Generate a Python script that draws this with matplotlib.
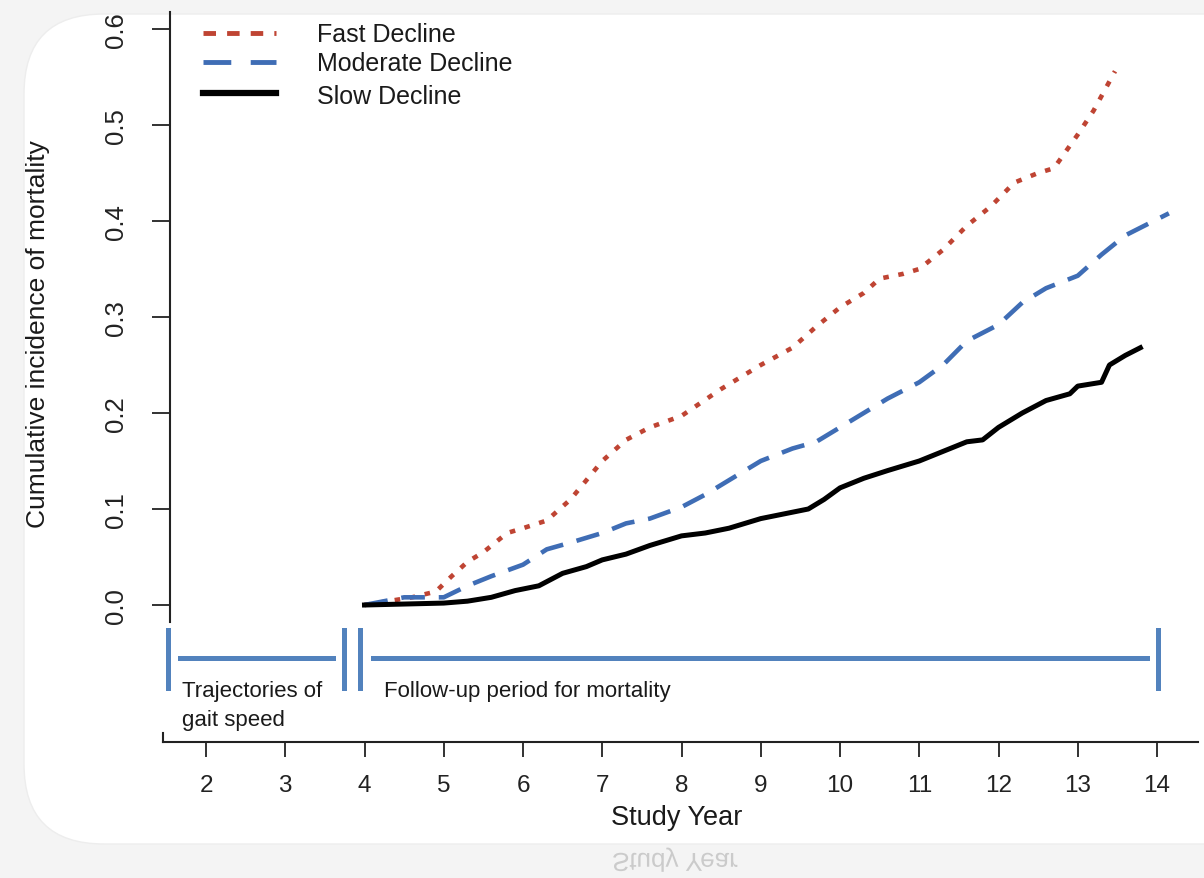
import numpy as np
import matplotlib.pyplot as plt
from matplotlib.patches import FancyBboxPatch, PathPatch
from matplotlib.textpath import TextPath
from matplotlib.font_manager import FontProperties
from matplotlib.transforms import IdentityTransform, Affine2D

plt.rcParams['font.family'] = ['Liberation Sans', 'DejaVu Sans']
plt.rcParams['lines.scale_dashes'] = False

# cumulative incidence curves read per study year
fast_years = [4.0, 4.3, 4.6, 4.9, 5.1, 5.3, 5.5, 5.8, 6.0, 6.3, 6.6, 7.0, 7.3, 7.6,
              8.0, 8.5, 9.0, 9.4, 9.7, 10.0, 10.3, 10.5, 10.8, 11.0, 11.3, 11.6,
              11.9, 12.2, 12.5, 12.7, 13.0, 13.2, 13.47]
fast = [0.0, 0.004, 0.008, 0.014, 0.030, 0.045, 0.055, 0.075, 0.080, 0.088, 0.110,
        0.150, 0.172, 0.185, 0.197, 0.225, 0.250, 0.268, 0.290, 0.310, 0.325, 0.340,
        0.345, 0.350, 0.370, 0.395, 0.415, 0.440, 0.450, 0.455, 0.490, 0.515, 0.556]

moderate_years = [4.0, 4.5, 5.0, 5.3, 5.6, 6.0, 6.3, 6.6, 7.0, 7.3, 7.6, 8.0, 8.3,
                  8.6, 9.0, 9.4, 9.7, 10.0, 10.3, 10.6, 11.0, 11.3, 11.6, 12.0, 12.3,
                  12.6, 13.0, 13.3, 13.6, 14.15]
moderate = [0.0, 0.008, 0.008, 0.020, 0.030, 0.042, 0.058, 0.065, 0.075, 0.085, 0.090,
            0.102, 0.115, 0.130, 0.150, 0.163, 0.170, 0.185, 0.200, 0.215, 0.232, 0.250,
            0.275, 0.292, 0.315, 0.330, 0.343, 0.365, 0.385, 0.408]

slow_years = [4.0, 4.5, 5.0, 5.3, 5.6, 5.9, 6.2, 6.5, 6.8, 7.0, 7.3, 7.6, 8.0, 8.3,
              8.6, 9.0, 9.3, 9.6, 9.8, 10.0, 10.3, 10.6, 11.0, 11.3, 11.6, 11.8, 12.0,
              12.3, 12.6, 12.9, 13.0, 13.3, 13.4, 13.6, 13.79]
slow = [0.0, 0.001, 0.002, 0.004, 0.008, 0.015, 0.020, 0.033, 0.040, 0.047, 0.053,
        0.062, 0.072, 0.075, 0.080, 0.090, 0.095, 0.100, 0.110, 0.122, 0.132, 0.140,
        0.150, 0.160, 0.170, 0.172, 0.185, 0.200, 0.213, 0.220, 0.228, 0.232, 0.250,
        0.260, 0.268]

series_names = ['Fast Decline', 'Moderate Decline', 'Slow Decline']
x_ticks = list(range(2, 15))
y_ticks = [0.0, 0.1, 0.2, 0.3, 0.4, 0.5, 0.6]

# study periods (years)
gait_period = (1.52, 3.74)
followup_period = (3.94, 14.01)

W, H = 1204, 879


def yr(px):
    # pixel column -> study year
    return 2 + (px - 206) / 79.25


def val(py):
    # pixel row -> incidence value
    return (606 - py) / 960


fig = plt.figure(figsize=(W / 100, H / 100), dpi=100)
fig.patch.set_facecolor('#f4f4f4')

card = FancyBboxPatch((24, H - 845), W + 60, 830,
                      boxstyle='round,pad=0,rounding_size=80',
                      transform=IdentityTransform(), facecolor='white',
                      edgecolor='#ededed', lw=1, zorder=0)
fig.add_artist(card)

ax = fig.add_axes([0, 0, 1, 1])
ax.patch.set_alpha(0)
ax.set_xlim(yr(0), yr(W))
ax.set_ylim(val(H), val(0))

red = '#bf4433'
blue = '#3f6db5'
bar_blue = '#5282bd'

ax.plot(fast_years, fast, color=red, lw=3.3, dashes=(4, 7))
ax.plot(moderate_years, moderate, color=blue, lw=3.3, dashes=(17, 10))
ax.plot(slow_years, slow, color='black', lw=3.6)

# legend
lx0, lx1 = yr(203), yr(276)
ax.plot([lx0, lx1], [val(34)] * 2, color=red, lw=3.5, dashes=(9, 8))
ax.plot([lx0, lx1], [val(63)] * 2, color=blue, lw=3.5, dashes=(20, 14))
ax.plot([lx0, lx1], [val(94)] * 2, color='black', lw=4.5)
for name, py in zip(series_names, [35, 64, 97]):
    ax.text(yr(317), val(py), name, fontsize=18, ha='left', va='center', color='#1a1a1a')

# axes
for s in ['top', 'right']:
    ax.spines[s].set_visible(False)
ax.spines['left'].set_position(('data', yr(170)))
ax.spines['left'].set_bounds(val(623), val(13))
ax.spines['bottom'].set_position(('data', val(743)))
ax.spines['bottom'].set_bounds(yr(163), yr(1198))
for s in ['left', 'bottom']:
    ax.spines[s].set_linewidth(1.5)
    ax.spines[s].set_color('#222222')
ax.plot([yr(163), yr(163)], [val(734), val(743)], color='#222222', lw=1.5)

ax.set_yticks(y_ticks)
ax.set_yticklabels([f'{v:.1f}' for v in y_ticks], rotation=90, va='center')
ax.set_xticks(x_ticks)
ax.set_xticklabels([str(v) for v in x_ticks])
ax.tick_params(axis='y', length=13, width=1.3, pad=17, labelsize=18.5, colors='#222222')
ax.tick_params(axis='x', length=11, width=1.3, pad=12, labelsize=17.5, colors='#222222')

ax.text(yr(38), val(334), 'Cumulative incidence of mortality', rotation=90,
        fontsize=19, ha='center', va='center', color='#1a1a1a')
ax.text(yr(677), val(818), 'Study Year', fontsize=19.5, ha='center', va='center',
        color='#1a1a1a')

# study period bars
bar_top, bar_bot, bar_mid = val(631), val(689), val(659)
ax.plot([gait_period[0]] * 2, [bar_top, bar_bot], color=bar_blue, lw=3.6)
ax.plot([yr(180), yr(333)], [bar_mid] * 2, color=bar_blue, lw=3.6)
ax.plot([gait_period[1]] * 2, [bar_top, bar_bot], color=bar_blue, lw=3.6)
ax.plot([followup_period[0]] * 2, [bar_top, bar_bot], color=bar_blue, lw=3.6)
ax.plot([yr(373), yr(1147)], [bar_mid] * 2, color=bar_blue, lw=3.6)
ax.plot([followup_period[1]] * 2, [bar_top, bar_bot], color=bar_blue, lw=3.6)

ax.text(yr(182), val(697), 'Trajectories of', fontsize=16, va='baseline', color='#1a1a1a')
ax.text(yr(182), val(726), 'gait speed', fontsize=16, va='baseline', color='#1a1a1a')
ax.text(yr(384), val(697), 'Follow-up period for mortality', fontsize=16,
        va='baseline', color='#1a1a1a')

# faint mirrored caption below the card
tp = TextPath((0, 0), 'Study Year', size=26,
              prop=FontProperties(family='Liberation Sans'))
mirror = Affine2D().scale(1, -1).translate(612, H - 854)
fig.add_artist(PathPatch(tp, transform=mirror, facecolor='#cbcbcb',
                         edgecolor='none', zorder=0))

fig.savefig('out.png', dpi=100, facecolor=fig.get_facecolor())
